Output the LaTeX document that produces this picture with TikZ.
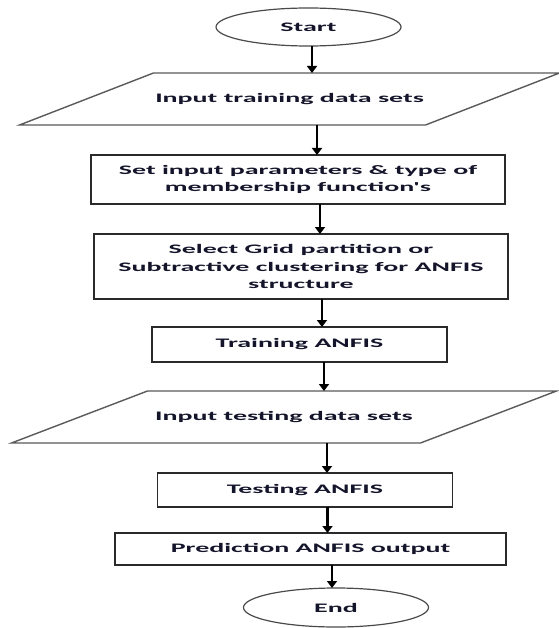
\documentclass[tikz,border=0pt]{standalone}
\usepackage{fontspec}
\setmainfont{Carlito}[FakeStretch=2.15, Ligatures=TeXOff]
\usetikzlibrary{shapes.geometric,arrows.meta,calc}
\definecolor{txt}{HTML}{14142A}
\definecolor{boxline}{HTML}{2A2A2A}
\definecolor{parline}{HTML}{5A5A5A}
\tikzset{
  lbl/.style={font=\fontsize{13}{17.5}\selectfont\bfseries, text=txt, align=center, inner sep=0pt, outer sep=0pt},
  terminal/.style={lbl, ellipse, draw=boxline!85, line width=1.2pt, minimum width=185pt, minimum height=38pt},
  procbox/.style={lbl, rectangle, draw=boxline, line width=1.6pt},
  iobox/.style={lbl, rectangle, minimum width=406pt, minimum height=52pt},
  ioline/.style={draw=parline, line width=1.4pt, line join=miter},
  arr/.style={draw=black, line width=2.2pt, -{Triangle[width=10pt,length=7pt]}}
}
\newcommand\paraedge[2]{%
  \draw[ioline] ($(#1.south west)+(-#2,0)$) -- ($(#1.south east)+(-#2,0)$)
     -- ($(#1.north east)+(#2,0)$) -- ($(#1.north west)+(#2,0)$) -- cycle;}
\begin{document}
\begin{tikzpicture}[x=1pt,y=-1pt]
\useasboundingbox (0,0) rectangle (558,628);
\fill[white] (0,0) rectangle (558,628);

\node[terminal] (start) at (308.5,27) {Start};
\node[iobox] (in1) at (289.5,99) {Input training data sets};
\paraedge{in1}{67}
\node[procbox, minimum width=414pt, minimum height=49pt] (setp) at (298,179.5)
  {Set input parameters \& type of\\membership function's};
\node[procbox, minimum width=414pt, minimum height=65pt] (sel) at (301,266.5)
  {Select Grid partition or\\Subtractive clustering for ANFIS\\structure};
\node[procbox, minimum width=295pt, minimum height=35pt] (train) at (299.5,344.5) {Training ANFIS};
\node[iobox, minimum width=409pt] (in2) at (284,417) {Input testing data sets};
\paraedge{in2}{68}
\node[procbox, minimum width=295pt, minimum height=34pt] (test) at (305,490) {Testing ANFIS};
\node[procbox, minimum width=391pt, minimum height=32pt] (pred) at (310.5,549) {Prediction ANFIS output};
\node[terminal, minimum height=39pt] (end) at (336,607.5) {End};

\draw[arr] ([xshift=3.5pt]start.south) coordinate (a1) -- (a1 |- in1.north);
\draw[arr] ([xshift=27.5pt]in1.south) coordinate (a2) -- (a2 |- setp.north);
\draw[arr] ([xshift=22pt]setp.south) coordinate (a3) -- (a3 |- sel.north);
\draw[arr] ([xshift=21pt]sel.south) coordinate (a4) -- (a4 |- train.north);
\draw[arr] ([xshift=24.5pt]train.south) coordinate (a5) -- (a5 |- in2.north);
\draw[arr] ([xshift=43pt]in2.south) coordinate (a6) -- (a6 |- test.north);
\draw[arr] ([xshift=22.5pt]test.south) coordinate (a7) -- (a7 |- pred.north);
\draw[arr] ([xshift=21.5pt]pred.south) coordinate (a8) -- (a8 |- end.north);
\end{tikzpicture}
\end{document}
